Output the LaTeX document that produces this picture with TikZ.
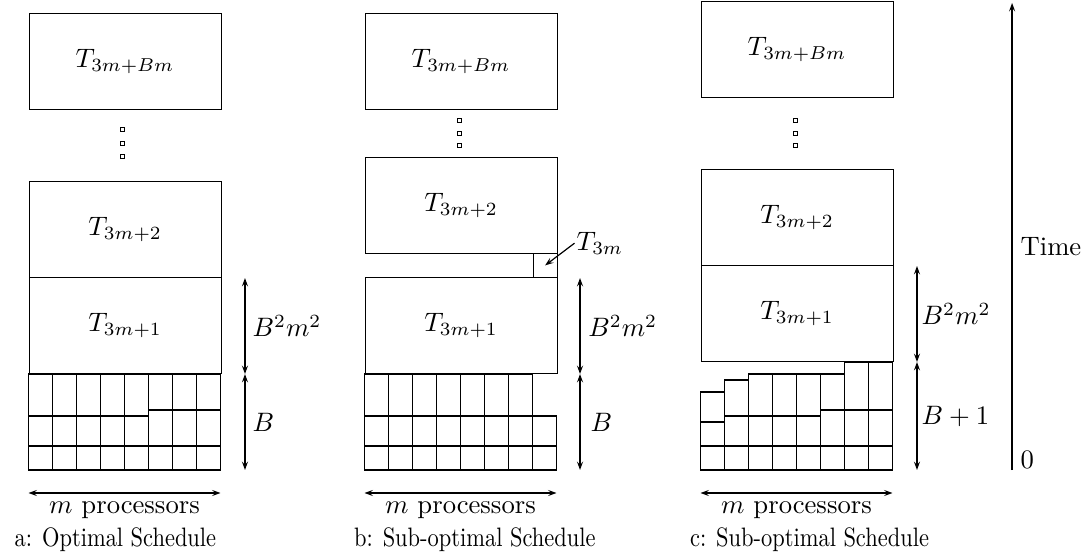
\documentclass[tikz,border=0pt]{standalone}
\usepackage{graphicx}
\usetikzlibrary{arrows.meta}
\newcommand{\narrowcap}[1]{\scalebox{0.842}[1]{#1}}
\begin{document}
\begin{tikzpicture}[x=9pt,y=9pt,
  line width=0.45pt,
  tip/.tip={Stealth[length=3.2pt,width=2.3pt,inset=1.3pt]},
  taskbox/.style={draw, minimum width=72pt, minimum height=36pt, inner sep=0pt, anchor=south west},
  smallbox/.style={draw, minimum width=9pt, minimum height=9pt, inner sep=0pt, anchor=south west},
  cell/.style={draw},
  dotbox/.style={draw, line width=0.4pt, minimum size=1.5pt, inner sep=0pt},
  dimline/.style={tip-tip},
  axisline/.style={-tip},
  lab/.style={anchor=west, inner sep=0pt},
  proctext/.style={anchor=base},
  captext/.style={anchor=base west, inner sep=0pt}]
\useasboundingbox (0,-3.4167) rectangle (45.25,19.5833);

% ---------- a: optimal schedule ----------
\begin{scope}[shift={(1.1875,0)}]
  \foreach \c in {0,...,4}
    \foreach \lo/\hi in {0/1,1/2.25,2.25/4} \draw[cell] (\c,\lo) rectangle (\c+1,\hi);
  \foreach \c in {5,6,7}
    \foreach \lo/\hi in {0/1,1/2.5,2.5/4} \draw[cell] (\c,\lo) rectangle (\c+1,\hi);
  \node[taskbox] (a1) at (0,4) {$T_{3m+1}$};
  \node[taskbox] (a2) at (0,8) {$T_{3m+2}$};
  \node[taskbox] (aB) at (0,15) {$T_{3m+Bm}$};
  \node[dotbox] (ad1) at (3.92,14.17) {};
  \node[dotbox] (ad2) at (3.92,13.62) {};
  \node[dotbox] (ad3) at (3.92,13.08) {};
  \coordinate (aA) at (9.02,0);
  \coordinate (aM) at (9.02,4);
  \coordinate (aT) at (9.02,8);
  \draw[dimline] (aA) -- (aM);
  \draw[dimline] (aM) -- (aT);
  \node[lab] (aBB) at (9.31,6) {$B^2m^2$};
  \node[lab] (aBl) at (9.31,2) {$B$};
  \coordinate (apl) at (0,-0.958);
  \coordinate (apr) at (8,-0.958);
  \draw[dimline] (apl) -- (apr);
  \node[proctext] (apt) at (4,-1.81) {$m$ processors};
  \node[captext] (acap) at (-0.6,-3.2) {\narrowcap{a: Optimal Schedule}};
\end{scope}

% ---------- b: sub-optimal schedule ----------
\begin{scope}[shift={(15.1875,0)}]
  \foreach \c in {0,...,6}
    \foreach \lo/\hi in {0/1,1/2.25,2.25/4} \draw[cell] (\c,\lo) rectangle (\c+1,\hi);
  \foreach \lo/\hi in {0/1,1/2.25} \draw[cell] (7,\lo) rectangle (8,\hi);
  \node[taskbox] (b1) at (0,4) {$T_{3m+1}$};
  \node[smallbox] (b0) at (7,8) {};
  \node[taskbox] (b2) at (0,9) {$T_{3m+2}$};
  \node[taskbox] (bB) at (0,15) {$T_{3m+Bm}$};
  \node[dotbox] (bd1) at (3.94,14.58) {};
  \node[dotbox] (bd2) at (3.94,14.04) {};
  \node[dotbox] (bd3) at (3.94,13.54) {};
  \node[lab, inner sep=0.6pt] (b0l) at (8.75,9.45) {$T_{3m}$};
  \draw[-tip] (b0l.west) -- (b0.center);
  \coordinate (bA) at (8.98,0);
  \coordinate (bM) at (8.98,4);
  \coordinate (bT) at (8.98,8);
  \draw[dimline] (bA) -- (bM);
  \draw[dimline] (bM) -- (bT);
  \node[lab] (bBB) at (9.3,6) {$B^2m^2$};
  \node[lab] (bBl) at (9.4,2) {$B$};
  \coordinate (bpl) at (0,-0.958);
  \coordinate (bpr) at (8,-0.958);
  \draw[dimline] (bpl) -- (bpr);
  \node[proctext] (bpt) at (4,-1.81) {$m$ processors};
  \node[captext] (bcap) at (-0.46,-3.2) {\narrowcap{b: Sub-optimal Schedule}};
\end{scope}

% ---------- c: sub-optimal schedule ----------
\begin{scope}[shift={(29.1875,0)}]
  \foreach \lo/\hi in {0/1,1/2,2/3.25} \draw[cell] (0,\lo) rectangle (1,\hi);
  \foreach \lo/\hi in {0/1,1/2.25,2.25/3.75} \draw[cell] (1,\lo) rectangle (2,\hi);
  \foreach \c in {2,3,4}
    \foreach \lo/\hi in {0/1,1/2.25,2.25/4} \draw[cell] (\c,\lo) rectangle (\c+1,\hi);
  \foreach \lo/\hi in {0/1,1/2.5,2.5/4} \draw[cell] (5,\lo) rectangle (6,\hi);
  \foreach \c in {6,7}
    \foreach \lo/\hi in {0/1,1/2.5,2.5/4.5} \draw[cell] (\c,\lo) rectangle (\c+1,\hi);
  \node[taskbox] (c1) at (0,4.5) {$T_{3m+1}$};
  \node[taskbox] (c2) at (0,8.5) {$T_{3m+2}$};
  \node[taskbox] (cB) at (0,15.5) {$T_{3m+Bm}$};
  \node[dotbox] (cd1) at (3.94,14.58) {};
  \node[dotbox] (cd2) at (3.94,14.04) {};
  \node[dotbox] (cd3) at (3.94,13.54) {};
  \coordinate (cA) at (9.02,0);
  \coordinate (cM) at (9.02,4.5);
  \coordinate (cT) at (9.02,8.5);
  \draw[dimline] (cA) -- (cM);
  \draw[dimline] (cM) -- (cT);
  \node[lab] (cBB) at (9.19,6.5) {$B^2m^2$};
  \node[lab] (cBl) at (9.19,2.25) {$B+1$};
  \coordinate (cpl) at (0,-0.958);
  \coordinate (cpr) at (8,-0.958);
  \draw[dimline] (cpl) -- (cpr);
  \node[proctext] (cpt) at (4,-1.81) {$m$ processors};
  \node[captext] (ccap) at (-0.46,-3.2) {\narrowcap{c: Sub-optimal Schedule}};
\end{scope}

% ---------- time axis ----------
\coordinate (t0) at (42.17,0);
\coordinate (t1) at (42.17,19.46);
\draw[axisline] (t0) -- (t1);
\node[lab] (tl) at (42.5,9.29) {Time};
\node[anchor=base west, inner sep=0pt] (tz) at (42.5,0.05) {$0$};
\end{tikzpicture}
\end{document}
